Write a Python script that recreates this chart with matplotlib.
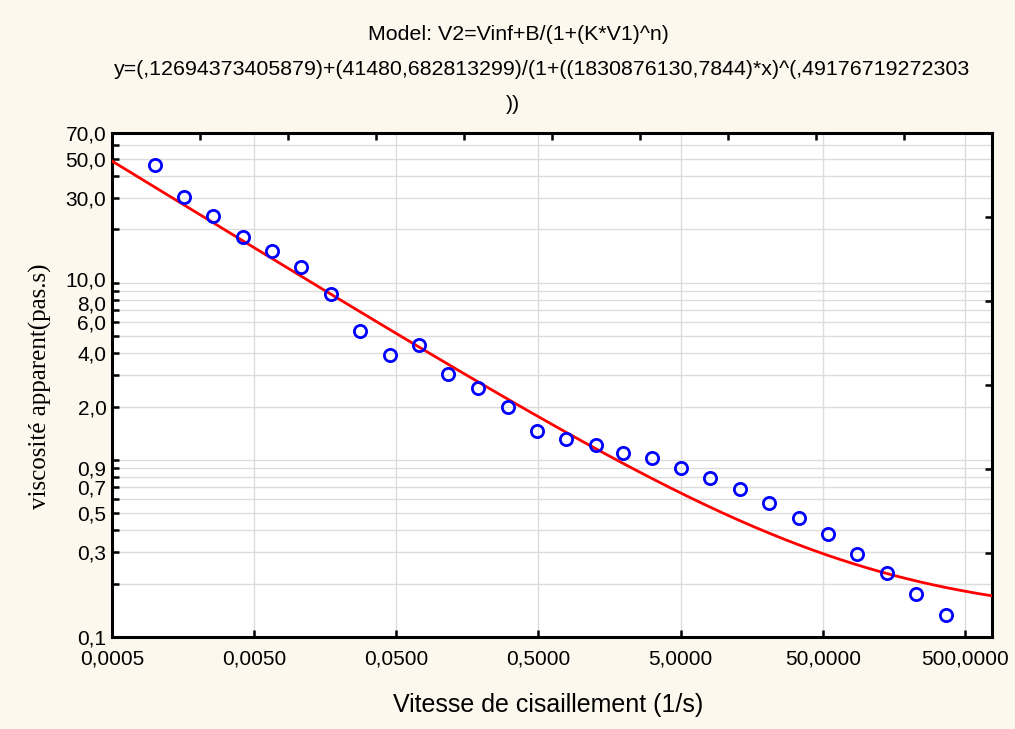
import numpy as np
import matplotlib
matplotlib.use("Agg")
import matplotlib.pyplot as plt
import matplotlib.transforms as mtransforms
from matplotlib.ticker import FixedLocator, FixedFormatter

# ================= DATA =================
shear_rate = [0.00100, 0.00160, 0.00256, 0.00417, 0.00667, 0.01067, 0.01734,
              0.0277, 0.0451, 0.0721, 0.1153, 0.1875, 0.305, 0.488, 0.780,
              1.267, 1.963, 3.13, 5.01, 8.02, 13.0, 20.9, 33.9, 54.2, 86.7,
              141.0, 225.0, 366.0]
viscosity = [46.0, 30.3, 23.7, 18.0, 15.0, 12.3, 8.66, 5.35, 3.91, 4.45, 3.05,
             2.54, 1.98, 1.45, 1.31, 1.22, 1.10, 1.03, 0.896, 0.785, 0.681,
             0.574, 0.467, 0.379, 0.295, 0.231, 0.175, 0.133]

# fitted model parameters (from the title)
v_inf = 0.12694373405879
b_par = 41480.682813299
k_par = 1830876130.7844
n_par = 0.49176719272303

x_ticks = [0.0005, 0.005, 0.05, 0.5, 5, 50, 500]
x_labels = ["0,0005", "0,0050", "0,0500", "0,5000", "5,0000", "50,0000", "500,0000"]
y_ticks = [0.1, 0.2, 0.3, 0.4, 0.5, 0.6, 0.7, 0.8, 0.9, 1, 2, 3, 4, 5, 6, 7,
           8, 9, 10, 20, 30, 40, 50, 60, 70]
y_shown = {0.1: "0,1", 0.3: "0,3", 0.5: "0,5", 0.7: "0,7", 0.9: "0,9",
           2: "2,0", 4: "4,0", 6: "6,0", 8: "8,0", 10: "10,0",
           30: "30,0", 50: "50,0", 70: "70,0"}

x_min, x_max = 0.0005, 775
y_min, y_max = 0.1, 70

# ================= FIGURE =================
bg = "#fdf8ee"
sans = ["Liberation Sans", "DejaVu Sans"]
fig = plt.figure(figsize=(10.15, 7.29), dpi=100, facecolor=bg)
ax = fig.add_axes([0.1103, 0.1262, 0.867, 0.6914])
ax.set_facecolor("white")

xs = np.logspace(np.log10(x_min), np.log10(x_max), 400)
ys = v_inf + b_par / (1 + (k_par * xs) ** n_par)
ax.plot(xs, ys, color="#ff0000", lw=2.0, zorder=3)
ax.plot(shear_rate, viscosity, "o", mfc="none", mec="#0000ff", mew=2.0,
        ms=8.8, zorder=4, clip_on=False)

ax.set_xscale("log")
ax.set_yscale("log")
ax.set_xlim(x_min, x_max)
ax.set_ylim(y_min, y_max)

ax.xaxis.set_major_locator(FixedLocator(x_ticks))
ax.xaxis.set_major_formatter(FixedFormatter(x_labels))
ax.xaxis.set_minor_locator(FixedLocator([]))
ax.yaxis.set_major_locator(FixedLocator(y_ticks))
ax.yaxis.set_major_formatter(FixedFormatter([y_shown.get(v, "") for v in y_ticks]))
ax.yaxis.set_minor_locator(FixedLocator([]))

ax.grid(True, which="major", color="#dcdcdc", lw=1.0)
ax.set_axisbelow(True)

ax.tick_params(axis="both", direction="in", length=5, width=1.8,
               colors="black", labelsize=15)
ax.tick_params(axis="y", pad=4)
ax.tick_params(axis="x", pad=9)
for lab in ax.get_xticklabels() + ax.get_yticklabels():
    lab.set_fontfamily(sans)

# nudge the crowded 10,0 / 8,0 labels apart a little
fig.canvas.draw()
for tick in ax.yaxis.get_major_ticks():
    v = tick.get_loc()
    shift = 0
    if np.isclose(v, 10):
        shift = 2.5
    elif np.isclose(v, 8):
        shift = -2
    if shift:
        off = mtransforms.ScaledTranslation(0, shift / 72, fig.dpi_scale_trans)
        tick.label1.set_transform(tick.label1.get_transform() + off)

for sp in ax.spines.values():
    sp.set_linewidth(2.2)
    sp.set_color("black")

# extra tick marks on top and right
ax_top = ax.twiny()
ax_top.set_xlim(0, 1)
ax_top.set_xticks(np.linspace(0, 1, 11))
ax_top.set_xticklabels([])
ax_top.tick_params(axis="x", direction="in", length=5, width=1.8)
ax_right = ax.twinx()
ax_right.set_ylim(0, 1)
ax_right.set_yticks(np.linspace(0, 1, 7))
ax_right.set_yticklabels([])
ax_right.tick_params(axis="y", direction="in", length=5, width=1.8)
for a in (ax_top, ax_right):
    for sp in a.spines.values():
        sp.set_visible(False)

# ================= TEXT =================
fig.text(0.511, 0.952, "Model: V2=Vinf+B/(1+(K*V1)^n)", ha="center",
         va="center", fontsize=15.4, family=sans)
fig.text(0.534, 0.904,
         "y=(,12694373405879)+(41480,682813299)/(1+((1830876130,7844)*x)^(,49176719272303",
         ha="center", va="center", fontsize=15.4, family=sans)
fig.text(0.505, 0.857, "))", ha="center", va="center", fontsize=15.4, family=sans)

fig.text(0.54, 0.033, "Vitesse de cisaillement (1/s)", ha="center", va="center",
         fontsize=18, family=sans)
fig.text(0.040, 0.470, "viscosité apparent(pas.s)", ha="center", va="center",
         rotation=90, fontsize=18, family=["Liberation Serif", "DejaVu Serif"])

plt.savefig("out.png", dpi=100, facecolor=bg)
